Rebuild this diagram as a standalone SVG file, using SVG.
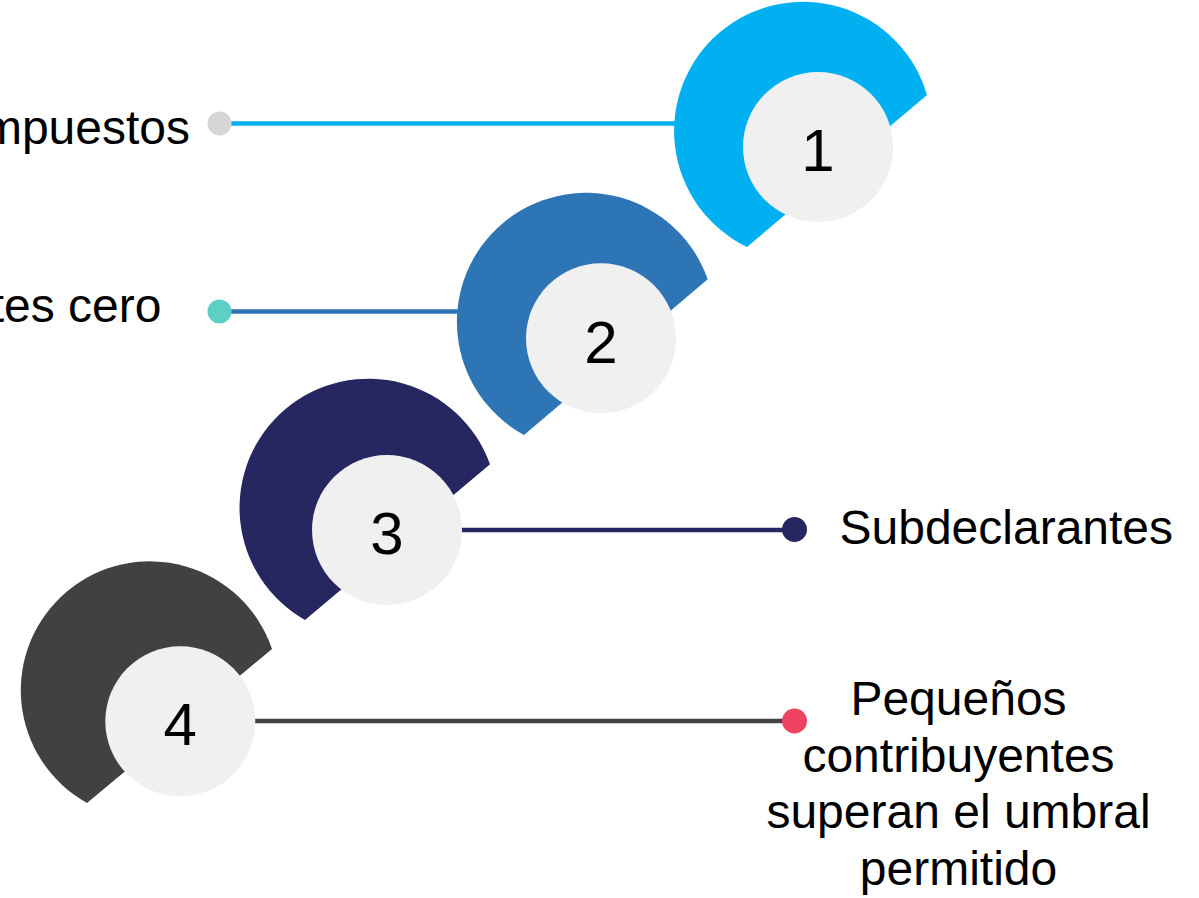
<svg xmlns="http://www.w3.org/2000/svg" width="1199" height="898" viewBox="0 0 1199 898">
  <style>
    .lbl { font-family: "Liberation Sans", Arial, sans-serif; font-size: 48px; fill: #000000; }
    .mid { text-anchor: middle; }
    .num { font-family: "Liberation Sans", Arial, sans-serif; font-size: 60px; fill: #000000; text-anchor: middle; }
    .inner { fill: #F0F0F0; }
    .conn { stroke-width: 4.5; fill: none; }
  </style>
  <rect width="1199" height="898" fill="#FFFFFF"/>
  <g id="connectors">
    <line class="conn" x1="220" y1="123.5" x2="690" y2="123.5" stroke="#00B0F0"/>
    <line class="conn" x1="220" y1="311.5" x2="470" y2="311.5" stroke="#2E75B6"/>
    <line class="conn" x1="440" y1="530" x2="794" y2="530" stroke="#262660"/>
    <line class="conn" x1="230" y1="721" x2="794" y2="721" stroke="#414141"/>
    <circle cx="219.5" cy="123.5" r="12" fill="#D6D6D6"/>
    <circle cx="219.5" cy="311.5" r="12" fill="#5ECFC7"/>
    <circle cx="794.5" cy="529.5" r="12.5" fill="#262660"/>
    <circle cx="794.5" cy="721" r="12.5" fill="#EF4160"/>
  </g>
  <g id="node1">
    <path d="M927,95 A129,129 0 1 0 747,247 Z" fill="#00B0F0"/>
    <circle class="inner" cx="818" cy="147" r="75"/>
    <text class="num" x="818" y="171">1</text>
  </g>
  <g id="node2">
    <path d="M707.7,279.3 A129,129 0 1 0 524,435 Z" fill="#2E75B6"/>
    <circle class="inner" cx="601" cy="338.3" r="75"/>
    <text class="num" x="601" y="362.5">2</text>
  </g>
  <g id="node3">
    <path d="M490,464.3 A129,129 0 1 0 305,620 Z" fill="#262660"/>
    <circle class="inner" cx="387" cy="530" r="75"/>
    <text class="num" x="387" y="553.5">3</text>
  </g>
  <g id="node4">
    <path d="M272,649 A129,129 0 1 0 87,803 Z" fill="#414141"/>
    <circle class="inner" cx="180.3" cy="721.3" r="75"/>
    <text class="num" x="180.3" y="745">4</text>
  </g>
  <g id="labels">
    <text class="lbl" x="190" y="143.5" text-anchor="end">mpuestos</text>
    <text class="lbl" x="161.5" y="321.7" text-anchor="end">tes cero</text>
    <text class="lbl" x="839.5" y="544">Subdeclarantes</text>
    <text class="lbl mid" x="958.5" y="715">Pequeños</text>
    <text class="lbl mid" x="958.5" y="771.7">contribuyentes</text>
    <text class="lbl mid" x="958.5" y="828.3">superan el umbral</text>
    <text class="lbl mid" x="958.5" y="885">permitido</text>
  </g>
</svg>
